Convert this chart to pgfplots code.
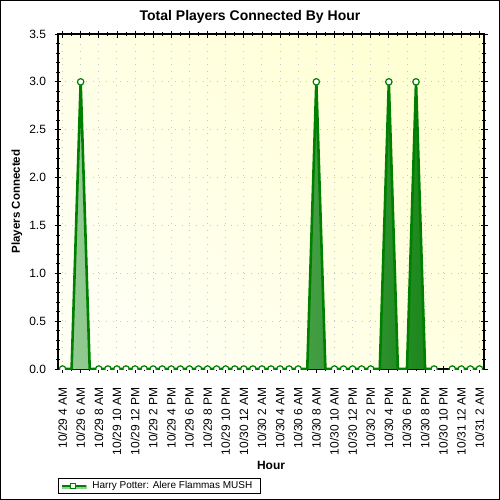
\documentclass[border=0pt]{standalone}
\usepackage{pgfplots}
\usepackage{pgfplotstable}
\pgfplotsset{compat=1.18}
\usepackage{fontspec}
\setmainfont{Liberation Sans}

\definecolor{linegreen}{RGB}{0,128,0}
\definecolor{filllight}{RGB}{150,205,150}
\definecolor{filldark}{RGB}{10,125,10}
\definecolor{bgwhite}{RGB}{255,255,243}
\definecolor{bgyellow}{RGB}{255,255,212}
\definecolor{gridgray}{RGB}{200,200,200}

% hours counted from 10/29 4 AM; nan = no sample
\pgfplotstableread{
hour players
0 0
1 0
2 3
3 0
4 0
5 0
6 0
7 0
8 0
9 0
10 0
11 0
12 0
13 0
14 0
15 0
16 0
17 0
18 0
19 0
20 0
21 0
22 0
23 0
24 0
25 0
26 0
27 0
28 3
29 0
30 0
31 0
32 0
33 0
34 0
35 0
36 3
37 0
38 0
39 3
40 0
41 0
42 nan
43 0
44 0
45 0
46 0
}\players

% area under the curve
\pgfplotstableread{
hour players
0 0
1 0
2 3
3 0
27 0
28 3
29 0
35 0
36 3
37 0
38 0
39 3
40 0
46 0
}\playersarea

% sample markers
\pgfplotstableread{
hour players
0 0
2 3
4 0
5 0
6 0
7 0
8 0
9 0
10 0
11 0
12 0
13 0
14 0
15 0
16 0
17 0
18 0
19 0
20 0
21 0
22 0
23 0
24 0
25 0
26 0
28 3
30 0
31 0
32 0
33 0
34 0
36 3
39 3
41 0
43 0
44 0
45 0
46 0
}\playersmarks

\begin{document}
\begin{tikzpicture}
\useasboundingbox (-58bp,-131bp) rectangle (442bp,369bp);
\fill[white] (-58bp,-131bp) rectangle (442bp,369bp);
\begin{axis}[
  scale only axis, width=426bp, height=335bp,
  at={(0,0)}, anchor=south west,
  xmin=-0.5, xmax=46.5, ymin=0, ymax=3.5,
  xtick={0,2,...,46}, minor xtick={1,3,...,45},
  xticklabels={10/29 4 AM,10/29 6 AM,10/29 8 AM,10/29 10 AM,10/29 12 PM,10/29 2 PM,10/29 4 PM,10/29 6 PM,10/29 8 PM,10/29 10 PM,10/30 12 AM,10/30 2 AM,10/30 4 AM,10/30 6 AM,10/30 8 AM,10/30 10 AM,10/30 12 PM,10/30 2 PM,10/30 4 PM,10/30 6 PM,10/30 8 PM,10/30 10 PM,10/31 12 AM,10/31 2 AM},
  ytick={0,0.5,1,1.5,2,2.5,3,3.5},
  yticklabels={0.0,0.5,1.0,1.5,2.0,2.5,3.0,3.5},
  minor y tick num=4,
  tick align=center,
  major tick length=7bp, minor tick length=4bp,
  every tick/.style={black, line width=0.8bp},
  axis line style={black, line width=1.3bp},
  grid=major,
  major grid style={gridgray, line width=0.9bp, dash pattern=on 0.9bp off 6bp},
  axis background/.style={shade, bottom color=bgwhite, top color=bgyellow, shading angle=-45},
  ticklabel style={font=\fontsize{12bp}{14bp}\selectfont},
  xticklabel style={rotate=90, anchor=east},
  xticklabel shift=11bp,
  yticklabel shift=5bp,
  clip marker paths=true,
  unbounded coords=jump,
  legend style={at={(axis description cs:0,-0.3254)}, anchor=north west,
    draw=black, line width=0.8bp, inner xsep=3bp, inner ysep=1bp,
    font=\fontsize{10bp}{11bp}\selectfont,
    nodes={inner xsep=5bp},
    cells={anchor=west}},
]
\addplot[draw=none, left color=filllight, right color=filldark, forget plot]
  table[x=hour, y=players] {\playersarea} \closedcycle;
\addplot[linegreen, line width=2.6bp, line join=round, mark=none, forget plot]
  table[x=hour, y=players] {\players};
\addplot[only marks, mark=*, mark size=3.2bp,
  mark options={draw=linegreen, fill=white, line width=1.2bp}, forget plot]
  table[x=hour, y=players] {\playersmarks};
\addlegendimage{legend image code/.code={
  \fill[filllight] (0bp,-3bp) rectangle (24bp,0bp);
  \draw[linegreen, line width=2bp] (0bp,0bp) -- (24bp,0bp);
  \draw[linegreen, fill=white, line width=1bp] (8.5bp,-2.5bp) rectangle (13.5bp,2.5bp);
}}
\addlegendentry{Harry Potter: Alere Flammas MUSH}
\end{axis}
\node[font=\fontsize{14bp}{16bp}\selectfont\bfseries] at (192bp,352bp) {Total Players Connected By Hour};
\node[font=\fontsize{12bp}{14bp}\selectfont\bfseries] at (213bp,-96bp) {Hour};
\node[font=\fontsize{11.5bp}{14bp}\selectfont\bfseries, rotate=90] at (-41bp,167.5bp) {Players Connected};
\draw[black, line width=1bp] (-57.5bp,-130.5bp) rectangle (441.5bp,368.5bp);
\end{tikzpicture}
\end{document}
